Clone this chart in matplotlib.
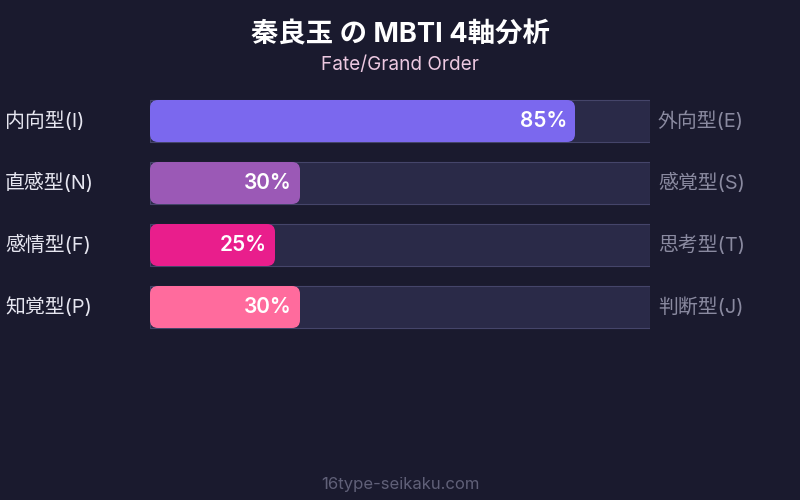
import matplotlib.pyplot as plt
from matplotlib.patches import FancyBboxPatch, Rectangle

plt.rcParams['font.family'] = ['Inter', 'Noto Sans CJK JP', 'DejaVu Sans']

title = '秦良玉 の MBTI 4軸分析'
subtitle = 'Fate/Grand Order'
footer = '16type-seikaku.com'

left_labels = ['内向型(I)', '直感型(N)', '感情型(F)', '知覚型(P)']
right_labels = ['外向型(E)', '感覚型(S)', '思考型(T)', '判断型(J)']
values = [85, 30, 25, 30]
colors = ['#7b68ee', '#9b59b6', '#e91e8c', '#ff6b9d']

bg = '#1a1a2e'
track = '#2a2a48'
track_edge = '#45456a'

fig = plt.figure(figsize=(8, 5), dpi=100)
fig.patch.set_facecolor(bg)

# bar area: 150..650 px wide, rows of 62 px starting at y=90
ax = fig.add_axes([150 / 800, (500 - 338) / 500, 500 / 800, 248 / 500])
ax.set_facecolor(bg)
ax.set_xlim(0, 100)
ax.set_ylim(len(values) - 0.5, -0.5)
ax.axis('off')

bar_h = 42 / 62
aspect = (1 / 62) / (1 / 5)

for i, (val, col) in enumerate(zip(values, colors)):
    y0 = i - bar_h / 2
    ax.add_patch(Rectangle((0, y0), 100, bar_h, facecolor=track,
                           edgecolor=track_edge, linewidth=0.8))
    ax.add_patch(FancyBboxPatch((0, y0), val, bar_h,
                                boxstyle='round,pad=0,rounding_size=1.6',
                                mutation_aspect=aspect,
                                facecolor=col, edgecolor='none'))
    ax.text(val - 1.6, i, f'{val}%', color='white', fontsize=15,
            fontweight='semibold', ha='right', va='center')
    ax.text(-29, i, left_labels[i], color='#e6e6f0', fontsize=14.3,
            ha='left', va='center', clip_on=False)
    ax.text(101.6, i, right_labels[i], color='#8a8aa0', fontsize=14.3,
            ha='left', va='center', clip_on=False)

fig.text(0.5, 1 - 35 / 500, title, color='white', fontsize=19.7,
         fontweight='bold', ha='center', va='center')
fig.text(0.5, 1 - 65 / 500, subtitle, color='#ecc8e0', fontsize=13.7,
         ha='center', va='center')
fig.text(0.5, 1 - 484 / 500, footer, color='#606078', fontsize=12,
         ha='center', va='center')

fig.savefig('out.png', dpi=100, facecolor=bg)
